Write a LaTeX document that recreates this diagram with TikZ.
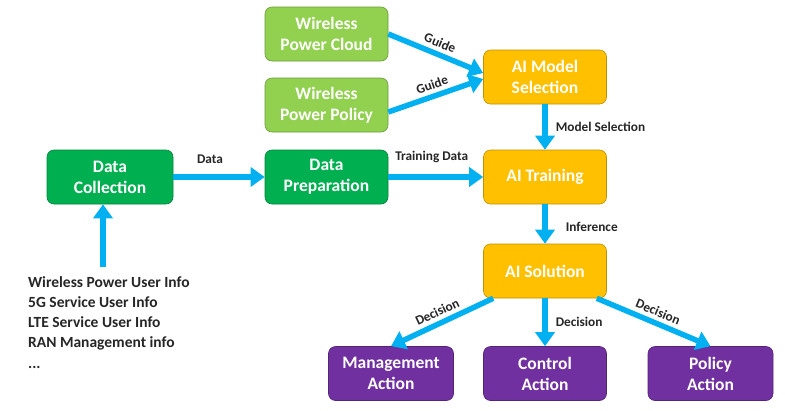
\documentclass[tikz,border=0pt]{standalone}
\usepackage{fontspec}
\setmainfont{Carlito}
\usetikzlibrary{arrows.meta}

\definecolor{lgreen}{HTML}{92D050}
\definecolor{dgreen}{HTML}{00B050}
\definecolor{amber}{HTML}{FFC000}
\definecolor{violet}{HTML}{7030A0}
\definecolor{sky}{HTML}{00B0F0}

\begin{document}
\begin{tikzpicture}[x=1pt, y=-1pt,
            box/.style={draw=#1!75!black, fill=#1, line width=0.6pt, rounded corners=7pt,
                minimum width=123pt, minimum height=54pt, inner sep=0pt, align=center,
                text=white, font=\fontsize{17.5}{21}\selectfont\bfseries},
            flow/.style={draw=sky, line width=5.5pt, -{Triangle[length=14pt, width=19pt]}},
            lbl/.style={font=\fontsize{13.3}{16}\selectfont\bfseries, text=black!85, inner sep=1pt}
        ]

        \useasboundingbox (0,0) rectangle (785,410);

        \node [box=lgreen] (WPC) at (326.5, 34) {Wireless\\Power Cloud};
        \node [box=lgreen] (WPP) at (326.5, 105) {Wireless\\Power Policy};
        \node [box=amber] (AIMS) at (545, 77) {AI Model\\Selection};
        \node [box=dgreen, minimum width=126pt] (DC) at (110, 177) {Data\\Collection};
        \node [box=dgreen] (DP) at (326.5, 177) {Data\\Preparation};
        \node [box=amber] (AIT) at (545, 177) {AI Training};
        \node [box=amber] (AIS) at (545, 271) {AI Solution};
        \node [box=violet, minimum width=125pt] (MA) at (391, 373.5) {Management\\Action};
        \node [box=violet] (CA) at (545, 373.5) {Control\\Action};
        \node [box=violet, minimum width=125pt] (PA) at (710.5, 373.5) {Policy\\Action};

        \node [anchor=north west, align=left, inner sep=0pt,
            font=\fontsize{15.5}{20.3}\selectfont\bfseries, text=black!85] (info) at (28, 276)
            {Wireless Power User Info\\5G Service User Info\\LTE Service User Info\\RAN Management info\\...};
        \coordinate (src) at (103, 267);

        \draw [flow] (WPC.east) -- ([yshift=4pt]AIMS.west) node [lbl, midway, sloped, above=3pt] {Guide};
        \draw [flow] ([yshift=-7pt]WPP.east) -- ([yshift=-2pt]AIMS.west) node [lbl, midway, sloped, above=3pt] {Guide};
        \draw [flow] (AIMS) -- (AIT) node [lbl, midway, right=7pt] {Model Selection};
        \draw [flow] (src) -- (src |- DC.south);
        \draw [flow] (DC) -- (DP) node [lbl, midway, above=10pt, xshift=-9pt] {Data};
        \draw [flow] (DP) -- (AIT) node [lbl, midway, above=10pt, xshift=-4pt] {Training Data};
        \draw [flow] (AIT) -- (AIS) node [lbl, midway, right=17pt, yshift=-3pt] {Inference};
        \draw [flow] ([xshift=10pt]AIS.south west) -- (MA.north) node [lbl, midway, sloped, above=3pt] {Decision};
        \draw [flow] (AIS) -- (CA) node [lbl, midway, right=7pt] {Decision};
        \draw [flow] ([xshift=-10pt]AIS.south east) -- (PA.north) node [lbl, midway, sloped, above=3pt] {Decision};

        \end{tikzpicture}
\end{document}
